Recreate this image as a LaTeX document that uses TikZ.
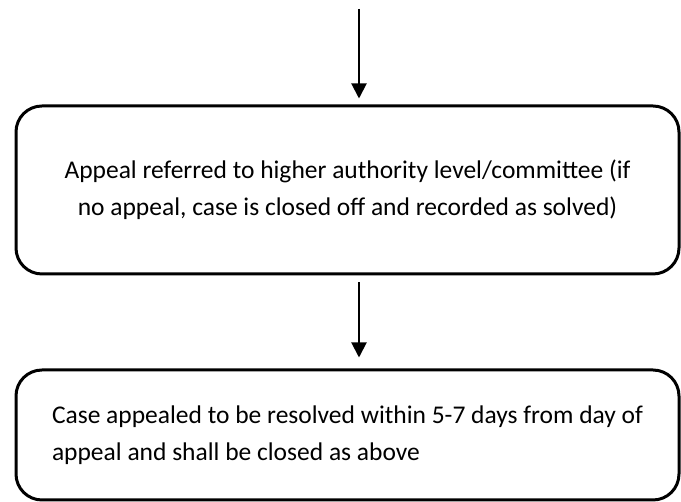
\documentclass[tikz,border=0pt]{standalone}
\usepackage{fontspec}
\setmainfont{Carlito}
\usetikzlibrary{arrows.meta}
\begin{document}
\begin{tikzpicture}[x=1pt,y=1pt,
  flowbox/.style={draw=black, line width=3pt, rounded corners=26pt, minimum width=663pt, font=\fontsize{25.5}{37}\selectfont},
  flowarrow/.style={draw=black, line width=2pt, -{Triangle[length=15pt,width=15pt]}}]
\useasboundingbox (0,0) rectangle (681,502);
\node[flowbox, minimum height=168pt, align=center] (b1) at (347.5,312) {Appeal referred to higher authority level/committee (if\\no appeal, case is closed off and recorded as solved)};
\node[flowbox, minimum height=130pt, align=left] (b2) at (347.5,67) {Case appealed to be resolved within 5-7 days from day of\\appeal and shall be closed as above};
\coordinate (top) at (359,493);
\draw[flowarrow, shorten >=6pt] (top) -- (top |- b1.north);
\draw[flowarrow, shorten <=7pt, shorten >=11pt] (b1.south -| top) -- (b2.north -| top);
\end{tikzpicture}
\end{document}
